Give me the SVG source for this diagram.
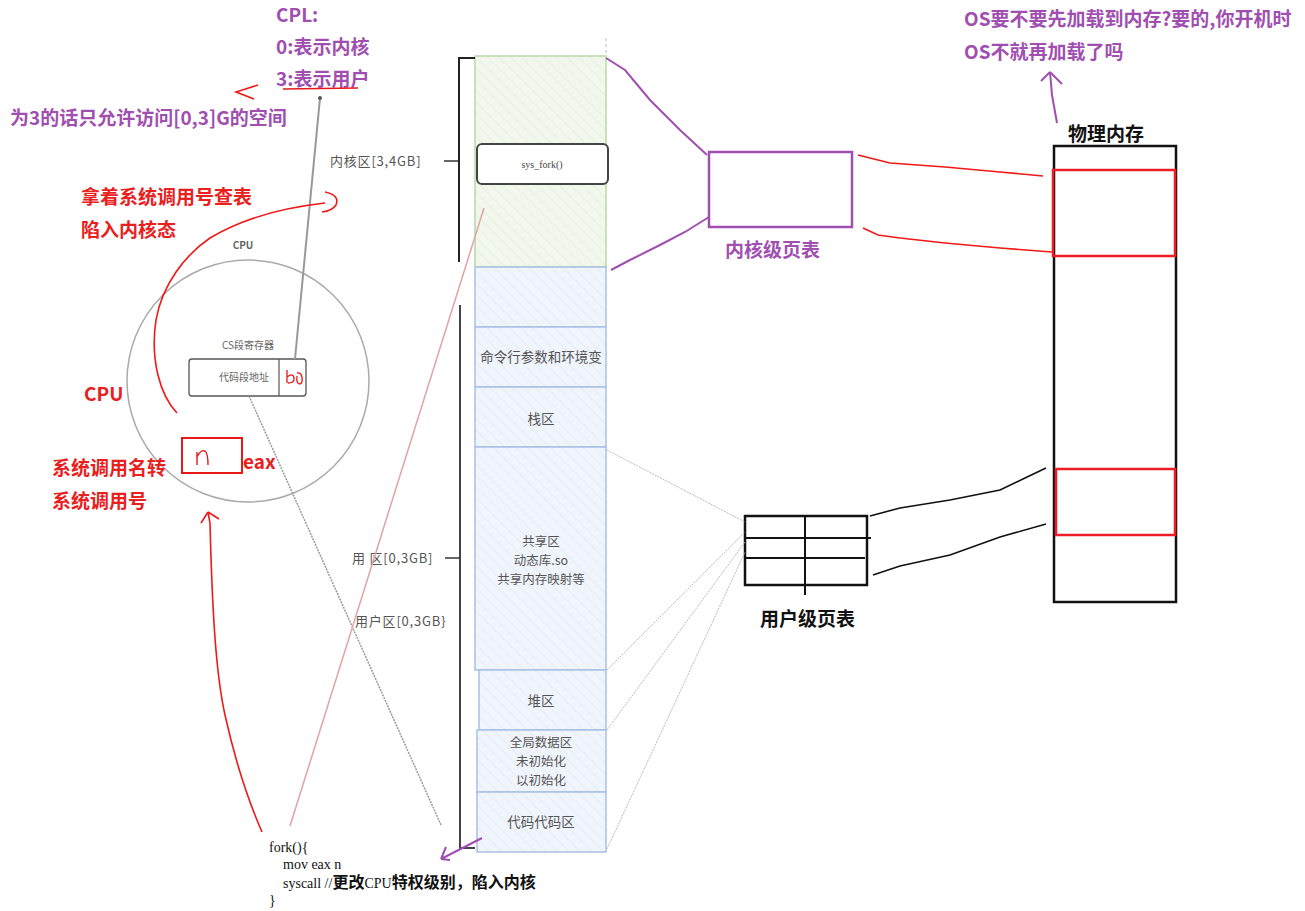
<svg xmlns="http://www.w3.org/2000/svg" width="1305" height="911" viewBox="0 0 1305 911">
<defs>
<pattern id="hatchG" width="8" height="8" patternUnits="userSpaceOnUse" patternTransform="rotate(-45)">
<rect width="8" height="8" fill="#f1f7ec"/><line x1="0" y1="0" x2="0" y2="8" stroke="#dcebd2" stroke-width="1"/>
</pattern>
<pattern id="hatchB" width="8" height="8" patternUnits="userSpaceOnUse" patternTransform="rotate(-45)">
<rect width="8" height="8" fill="#f0f4fb"/><line x1="0" y1="0" x2="0" y2="8" stroke="#dde6f4" stroke-width="1"/>
</pattern>
</defs>
<style>
.pt{font-family:"Noto Sans CJK SC","Liberation Sans",sans-serif;font-weight:bold;font-size:19px;fill:#a04fb0}
.rt{font-family:"Noto Sans CJK SC","Liberation Sans",sans-serif;font-weight:bold;font-size:19px;fill:#e8201e}
.bt{font-family:"Noto Sans CJK SC","Liberation Sans",sans-serif;font-weight:bold;font-size:19px;fill:#111}
.gt{font-family:"Noto Sans CJK SC","Liberation Sans",sans-serif;font-size:13.5px;fill:#555}
.mt{font-family:"Noto Sans CJK SC","Liberation Sans",sans-serif;font-size:12.5px;fill:#555}
.lt{font-family:"Noto Sans CJK SC","Liberation Sans",sans-serif;font-size:13px;fill:#555;letter-spacing:0.8px}
.st{font-family:"Noto Sans CJK SC","Liberation Sans",sans-serif;font-size:10px;fill:#666}
.code{font-family:"Liberation Serif","Noto Sans CJK SC",serif;font-size:14px;fill:#111}
.seg{stroke:#a9c1e3;stroke-width:1.5;fill:url(#hatchB)}
.gl{stroke:#bbb;stroke-width:1;fill:none;stroke-dasharray:2 1}
.pl{stroke:#a04fb0;stroke-width:2;fill:none}
.rl{stroke:#f01818;stroke-width:1.6;fill:none}
.kl{stroke:#111;stroke-width:1.6;fill:none}
</style>

<g id="memory">
<rect x="475" y="56" width="131" height="211" fill="url(#hatchG)" stroke="#b9d9a6" stroke-width="1.5"/>
<rect class="seg" x="475" y="267" width="131" height="60"/>
<rect class="seg" x="475" y="327" width="131" height="60"/>
<text class="gt" x="541" y="362" text-anchor="middle">命令行参数和环境变</text>
<rect class="seg" x="475" y="387" width="131" height="60"/>
<text class="gt" x="541" y="424" text-anchor="middle">栈区</text>
<rect class="seg" x="475" y="447" width="131" height="223"/>
<text class="mt" x="541" y="546" text-anchor="middle">共享区</text>
<text class="mt" x="541" y="565" text-anchor="middle">动态库.so</text>
<text class="mt" x="541" y="584" text-anchor="middle">共享内存映射等</text>
<rect class="seg" x="479" y="670" width="127" height="60"/>
<text class="gt" x="541" y="706" text-anchor="middle">堆区</text>
<rect class="seg" x="477" y="730" width="129" height="62"/>
<text class="mt" x="541" y="747" text-anchor="middle">全局数据区</text>
<text class="mt" x="541" y="766" text-anchor="middle">未初始化</text>
<text class="mt" x="541" y="785" text-anchor="middle">以初始化</text>
<rect class="seg" x="477" y="792" width="129" height="60"/>
<text class="gt" x="541" y="827" text-anchor="middle">代码代码区</text>
<line x1="606" y1="38" x2="606" y2="54" stroke="#bbb" stroke-width="1" stroke-dasharray="3 3"/>
</g>

<g id="sys_fork">
<rect x="477" y="144" width="131" height="40" rx="5" fill="#fff" stroke="#444" stroke-width="2"/>
<text x="542" y="168" text-anchor="middle" font-family="Liberation Serif,serif" font-size="10" fill="#444">sys_fork()</text>
</g>

<g id="brackets">
<path d="M475,58 H459 V262" stroke="#222" stroke-width="2" fill="none"/>
<line x1="444" y1="161" x2="458" y2="161" stroke="#333" stroke-width="1.5"/>
<text class="lt" x="330" y="166">内核区[3,4GB]</text>
<path d="M460,305 V848 H475" stroke="#444" stroke-width="2" fill="none"/>
<line x1="445" y1="558" x2="460" y2="558" stroke="#333" stroke-width="1.5"/>
<text class="lt" x="352" y="563">用   区[0,3GB]</text>
<text class="lt" x="355" y="626">用户区[0,3GB}</text>
</g>

<g id="cpu">
<circle cx="248" cy="381" r="121" fill="none" stroke="#aaa" stroke-width="1.5"/>
<text class="st" x="243" y="249" text-anchor="middle" font-weight="bold">CPU</text>
<text class="st" x="248" y="349" text-anchor="middle">CS段寄存器</text>
<rect x="189" y="359" width="117" height="37" rx="3" fill="#fff" stroke="#555" stroke-width="1.3"/>
<line x1="279" y1="359" x2="279" y2="396" stroke="#555" stroke-width="1.2"/>
<text class="st" x="244" y="381" text-anchor="middle">代码段地址</text>
<path d="M287,370 V383 M287,377 Q294,372 294,379 Q294,383 288,383 M297,376 Q296,384 300,384 Q303,383 302,377 Q301,372 297,373" stroke="#e81818" stroke-width="1.3" fill="none"/>
</g>

<g id="eax">
<rect x="182" y="438" width="60" height="35" fill="none" stroke="#e81818" stroke-width="2"/>
<path d="M197,465 V452 M197,457 Q201,449 205,451 Q208,453 208,465" stroke="#e81818" stroke-width="1.4" fill="none"/>
<text class="rt" x="243" y="469" font-size="16">eax</text>
</g>

<g id="kernel_pt">
<rect x="709" y="152" width="143" height="75" fill="#fff" stroke="#a04fb0" stroke-width="2.5"/>
<text class="pt" x="725" y="257">内核级页表</text>
</g>

<g id="user_pt">
<rect x="745" y="516" width="122" height="69" fill="#fff" stroke="#111" stroke-width="2.5"/>
<line x1="745" y1="538" x2="871" y2="538" stroke="#111" stroke-width="2"/>
<line x1="745" y1="558" x2="865" y2="558" stroke="#111" stroke-width="2"/>
<line x1="805" y1="516" x2="805" y2="595" stroke="#111" stroke-width="2"/>
<text class="bt" x="760" y="626">用户级页表</text>
</g>

<g id="phys_mem">
<text class="bt" x="1068" y="141">物理内存</text>
<rect x="1054" y="146" width="122" height="456" fill="#fff" stroke="#111" stroke-width="2.5"/>
<rect x="1053" y="170" width="122" height="86" fill="none" stroke="#ee1c24" stroke-width="2.5"/>
<rect x="1056" y="469" width="119" height="66" fill="none" stroke="#ee1c24" stroke-width="2.5"/>
</g>

<g id="texts">
<text class="pt" x="276" y="22">CPL:</text>
<text class="pt" x="276" y="54">0:表示内核</text>
<text class="pt" x="276" y="86">3:表示用户</text>
<line x1="283" y1="89" x2="358" y2="88" stroke="#e81818" stroke-width="1.6"/>
<text class="pt" x="10" y="125">为3的话只允许访问[0,3]G的空间</text>
<text class="pt" x="964" y="26">OS要不要先加载到内存?要的,你开机时</text>
<text class="pt" x="964" y="59">OS不就再加载了吗</text>
<text class="rt" x="81" y="204">拿着系统调用号查表</text>
<text class="rt" x="81" y="237">陷入内核态</text>
<text class="rt" x="84" y="401" font-size="16">CPU</text>
<text class="rt" x="52" y="475">系统调用名转</text>
<text class="rt" x="52" y="508">系统调用号</text>
<text class="code" x="269" y="852">fork(){</text>
<text class="code" x="283" y="869">mov eax n</text>
<text class="code" x="283" y="888">syscall //<tspan font-family="Noto Sans CJK SC,sans-serif" font-weight="bold" font-size="16">更改</tspan>CPU<tspan font-family="Noto Sans CJK SC,sans-serif" font-weight="bold" font-size="16">特权级别，陷入内核</tspan></text>
<text class="code" x="269" y="905">}</text>
</g>

<g id="connectors">
<line x1="320" y1="98" x2="295" y2="359" stroke="#999" stroke-width="2"/>
<circle cx="320" cy="98" r="2" fill="#555"/>
<line x1="249" y1="396" x2="441" y2="825" stroke="#999" stroke-width="1.5" stroke-dasharray="2 1"/>
<line x1="290" y1="826" x2="484" y2="208" stroke="#e0a4a4" stroke-width="1.5"/>
<path class="pl" d="M606,58 L625,70 L650,100 L680,130 L707,155"/>
<path class="pl" d="M611,270 L630,260 L660,245 L685,232 L709,217"/>
<path class="rl" d="M858,155 L890,163 L945,167 L1000,172 L1043,176"/>
<path class="rl" d="M863,228 L878,235 L900,238 L945,243 L1000,248 L1052,252"/>
<path class="kl" d="M870,516 L900,508 L950,500 L1000,490 L1025,478 L1046,468"/>
<path class="kl" d="M873,575 L900,566 L950,555 L1000,537 L1046,524"/>
<line class="gl" x1="607" y1="450" x2="745" y2="522"/>
<line class="gl" x1="607" y1="670" x2="745" y2="532"/>
<line class="gl" x1="607" y1="730" x2="745" y2="542"/>
<line class="gl" x1="607" y1="849" x2="745" y2="552"/>
<path class="pl" d="M482,838 L441,859 M441,859 L446,847 M441,859 L450,860"/>
<path class="pl" d="M1057,123 L1052,95 L1050,72 M1050,72 L1041,81 M1050,72 L1062,84" stroke-width="1.6"/>
<path class="rl" d="M258,85 L236,92 L254,99"/>
<path class="rl" d="M177,413 C160,395 150,360 156,320 C162,285 185,255 210,238 C240,220 280,208 325,203 M325,192 Q340,195 336,205 Q332,211 322,212" stroke-width="1.5"/>
<path class="rl" d="M262,832 C248,800 235,760 225,715 C215,670 212,600 210,523 L208,512 M208,512 L201,523 M208,512 L219,519" stroke-width="1.5"/>
</g>
</svg>
